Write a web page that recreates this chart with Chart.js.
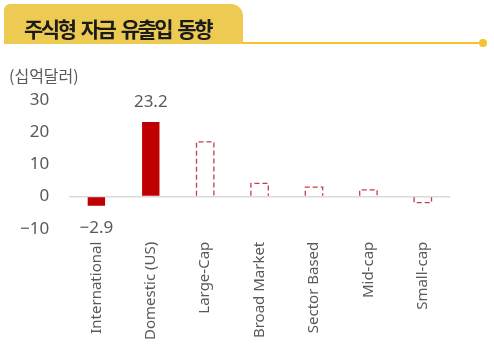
<!DOCTYPE html>
<html>
<head>
<meta charset="utf-8">
<script src="https://cdn.jsdelivr.net/npm/chart.js@4"></script>
<style>
  html,body{margin:0;padding:0;background:#fff;}
  #wrap{position:relative;width:494px;height:353px;overflow:hidden;}
  #tab{position:absolute;left:4px;top:4px;width:239px;height:40px;background:#EDCB52;border-radius:6px 12px 0 0;}
  #tabText{position:absolute;left:24px;top:16px;font-family:"Noto Sans CJK KR";font-weight:700;font-size:21px;letter-spacing:-2.5px;word-spacing:4px;color:#1b1b1b;line-height:24px;white-space:pre;}
  #line{position:absolute;left:243px;top:42px;width:240px;height:2px;background:#F6C22E;}
  #dot{position:absolute;left:479px;top:39px;width:8px;height:8px;border-radius:50%;background:#F6C22E;}
  #unit{position:absolute;left:9px;top:63px;font-family:"Noto Sans CJK KR";font-size:16px;color:#595959;}
  #chartBox{position:absolute;left:0;top:0;width:494px;height:353px;}
</style>
</head>
<body>
<div id="wrap">
  <div id="chartBox"><canvas id="myChart"></canvas></div>
  <div id="tab"></div>
  <div id="tabText">주식형 자금 유출입 동향</div>
  <div id="line"></div>
  <div id="dot"></div>
  <div id="unit">(십억달러)</div>
</div>
<script>
'use strict';
let categories=['International','Domestic (US)','Large-Cap','Broad Market','Sector Based','Mid-cap','Small-cap'];
let flowValues=[-2.9,23.2,null,null,null,null,null];
let breakdownValues=[null,null,17.0,4.1,2.9,2.1,-1.9];
let yTicks=[-10,0,10,20,30];

let textGray='#595959';
let solidRed='#C00000';
let dashRed='#BF4048';

function fmt(v){
  return String(v).replace('-','\u2212');
}

// dashed outline for the breakdown bars + value labels on the main bars
let extras={
  id:'extras',
  afterDatasetsDraw(chart){
    let ctx=chart.ctx;
    let meta=chart.getDatasetMeta(1);
    ctx.save();
    ctx.strokeStyle=dashRed;
    ctx.lineWidth=1.3;
    ctx.setLineDash([5,3]);
    meta.data.forEach(function(bar,i){
      if(breakdownValues[i]===null){return;}
      let p=bar.getProps(['x','y','base','width'],true);
      let l=p.x-p.width/2;
      let r=p.x+p.width/2;
      ctx.beginPath();
      ctx.moveTo(l,p.base);
      ctx.lineTo(l,p.y);
      ctx.lineTo(r,p.y);
      ctx.lineTo(r,p.base);
      ctx.stroke();
    });
    ctx.restore();

    let m0=chart.getDatasetMeta(0);
    ctx.save();
    ctx.fillStyle=textGray;
    ctx.font='17px "Noto Sans"';
    ctx.textAlign='center';
    ctx.textBaseline='middle';
    m0.data.forEach(function(bar,i){
      let v=flowValues[i];
      if(v===null){return;}
      let p=bar.getProps(['x','y'],true);
      let y=v>=0?p.y-20:p.y+22;
      ctx.fillText(fmt(v),p.x,y);
    });
    ctx.restore();
  }
};

new Chart(document.getElementById('myChart'),{
  type:'bar',
  data:{
    labels:categories,
    datasets:[{
      label:'flows',
      data:flowValues,
      backgroundColor:solidRed,
      borderWidth:0,
      skipNull:true,
      barPercentage:0.32,
      categoryPercentage:1
    },{
      label:'breakdown',
      data:breakdownValues,
      backgroundColor:'rgba(255,255,255,0)',
      borderWidth:0,
      skipNull:true,
      barPercentage:0.32,
      categoryPercentage:1
    }]
  },
  options:{
    responsive:true,
    maintainAspectRatio:false,
    animation:false,
    layout:{padding:{top:100,left:0,right:44,bottom:8}},
    plugins:{legend:{display:false},tooltip:{enabled:false}},
    scales:{
      x:{
        grid:{display:false},
        border:{display:false},
        ticks:{
          color:textGray,
          font:{family:'Noto Sans',size:15},
          minRotation:90,
          maxRotation:90,
          padding:5
        }
      },
      y:{
        min:yTicks[0],
        max:yTicks[yTicks.length-1],
        afterBuildTicks(axis){axis.ticks=yTicks.map(function(v){return {value:v};});},
        border:{display:false},
        grid:{
          drawTicks:false,
          lineWidth:1.5,
          color:function(c){return c.tick&&c.tick.value===0?'#DADADA':'rgba(0,0,0,0)';}
        },
        ticks:{
          color:textGray,
          font:{family:'Noto Sans',size:17},
          padding:20,
          callback:function(v){return fmt(v);}
        }
      }
    }
  },
  plugins:[extras]
});
</script>
</body>
</html>
